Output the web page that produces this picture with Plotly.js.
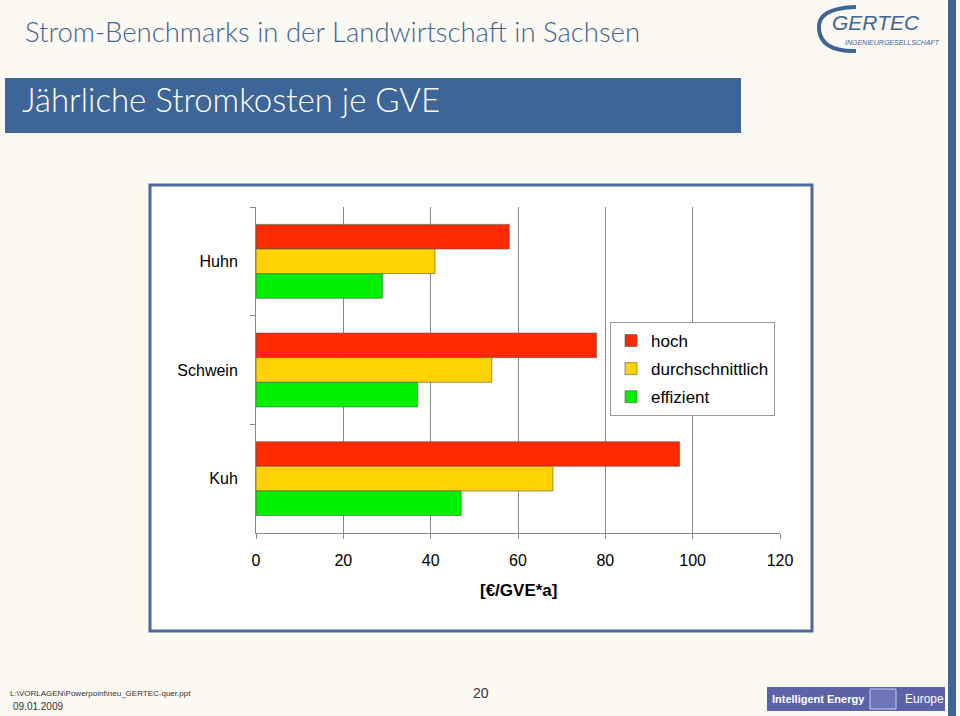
<!DOCTYPE html>
<html><head><meta charset="utf-8">
<script src="https://cdn.plot.ly/plotly-3.0.1.min.js"></script>
<style>html,body{margin:0;padding:0;background:#fcf8f2;}#chart{width:960px;height:716px;}</style>
</head><body><div id="chart"></div>
<script>
const categories = ['Huhn', 'Schwein', 'Kuh'];
const seriesNames = ['hoch', 'durchschnittlich', 'effizient'];
const hoch = [58, 78, 97];
const durchschnittlich = [41, 54, 68];
const effizient = [29, 37, 47];
const xTicks = [0, 20, 40, 60, 80, 100, 120];
const colors = ['#ff2a00', '#ffd200', '#00f000'];

// plot area in pixels
const L = 256, R = 780, T = 207, B = 533;
const W = 960, H = 716;
const px = x => (x - L) / (R - L);
const py = y => (B - y) / (B - T);

const values = [hoch, durchschnittlich, effizient];
const traces = values.map((v, i) => ({
  type: 'bar', orientation: 'h', name: seriesNames[i], legendgroup: 'g' + i,
  x: v, y: categories,
  marker: {color: colors[i], line: {color: '#555', width: 0.6}},
  hoverinfo: 'x+y'
}));

const font = "'Liberation Sans', Arial, sans-serif";
const lightFont = "Lato, 'Open Sans', 'Liberation Sans', sans-serif";
const blue = '#3d6597';

const shapes = [
  {type:'rect', xref:'paper', yref:'paper', layer:'below', x0:px(150), x1:px(812), y0:py(185), y1:py(631), fillcolor:'#ffffff', line:{color:'#4a6a9a', width:3}},
  {type:'rect', xref:'paper', yref:'paper', layer:'below', x0:px(5), x1:px(741), y0:py(78), y1:py(133), fillcolor:blue, line:{width:0}},
  {type:'rect', xref:'paper', yref:'paper', layer:'below', x0:px(948), x1:px(956), y0:py(0), y1:py(716), fillcolor:blue, line:{width:0}},
  {type:'rect', xref:'paper', yref:'paper', layer:'below', x0:px(767), x1:px(945), y0:py(687), y1:py(711), fillcolor:'#5b62a8', line:{width:0}},
  {type:'rect', xref:'paper', yref:'paper', layer:'below', x0:px(870), x1:px(896), y0:py(689), y1:py(709), fillcolor:'#6d74b8', line:{color:'#c8ccee', width:1}},
  {type:'path', xref:'paper', yref:'paper', layer:'below',
   path:'M '+px(856)+','+py(7)+' Q '+px(816)+','+py(8)+' '+px(819)+','+py(30)+' Q '+px(822)+','+py(52)+' '+px(856)+','+py(51),
   line:{color:blue, width:4}}
];

const annotations = [
  {text:'Strom-Benchmarks in der Landwirtschaft in Sachsen', xref:'paper', yref:'paper', x:px(23), y:py(31), xanchor:'left', yanchor:'middle', showarrow:false, font:{family:lightFont, weight:300, size:27.5, color:blue}},
  {text:'Jährliche Stromkosten je GVE', xref:'paper', yref:'paper', x:px(20), y:py(99), xanchor:'left', yanchor:'middle', showarrow:false, font:{family:lightFont, weight:300, size:33, color:'#ffffff'}},
  {text:'<i>GERTEC</i>', xref:'paper', yref:'paper', x:px(830), y:py(23), xanchor:'left', yanchor:'middle', showarrow:false, font:{family:font, size:21, color:blue}},
  {text:'<i>INGENIEURGESELLSCHAFT</i>', xref:'paper', yref:'paper', x:px(843), y:py(42), xanchor:'left', yanchor:'middle', showarrow:false, font:{family:"'Liberation Sans Narrow', "+font, size:7, color:blue}},
  {text:'<b>[€/GVE*a]</b>', xref:'paper', yref:'paper', x:px(518), y:py(590), xanchor:'center', yanchor:'middle', showarrow:false, font:{family:font, size:17, color:'#000'}},
  {text:'L:\\VORLAGEN\\Powerpoint\\neu_GERTEC-quer.ppt', xref:'paper', yref:'paper', x:px(8), y:py(693), xanchor:'left', yanchor:'middle', showarrow:false, font:{family:font, size:8, color:'#333'}},
  {text:'09.01.2009', xref:'paper', yref:'paper', x:px(11), y:py(706), xanchor:'left', yanchor:'middle', showarrow:false, font:{family:font, size:10, color:'#333'}},
  {text:'20', xref:'paper', yref:'paper', x:px(481), y:py(693), xanchor:'center', yanchor:'middle', showarrow:false, font:{family:font, size:14, color:'#333'}},
  {text:'<b>Intelligent Energy</b>', xref:'paper', yref:'paper', x:px(770), y:py(699), xanchor:'left', yanchor:'middle', showarrow:false, font:{family:font, size:11, color:'#ffffff'}},
  {text:'Europe', xref:'paper', yref:'paper', x:px(903), y:py(699), xanchor:'left', yanchor:'middle', showarrow:false, font:{family:font, size:12, color:'#ffffff'}}
];

const layout = {
  width: W, height: H,
  margin: {l: L, r: W - R, t: T, b: H - B, pad: 0},
  paper_bgcolor: '#fcf8f2', plot_bgcolor: '#ffffff',
  barmode: 'group', bargap: 0.32, bargroupgap: 0,
  font: {family: font, size: 16, color: '#000'},
  showlegend: true,
  legend: {x: px(610), y: py(322), xanchor: 'left', yanchor: 'top', bgcolor: '#ffffff', bordercolor: '#999', borderwidth: 1, font: {family: font, size: 17}, traceorder: 'grouped', tracegroupgap: 3, itemwidth: 30},
  xaxis: {range: [0, 120], tickvals: xTicks, ticktext: xTicks.map(String), showgrid: true, gridcolor: '#888', gridwidth: 1, zeroline: false, showline: true, linecolor: '#888', linewidth: 1, ticks: 'outside', ticklen: 5, tickcolor: '#888', ticklabelstandoff: 8, tickfont: {size: 16}, fixedrange: true},
  yaxis: {type: 'category', categoryorder: 'array', categoryarray: categories, autorange: 'reversed', showgrid: false, zeroline: false, showline: true, linecolor: '#888', linewidth: 1, ticks: 'outside', ticklen: 5, tickcolor: '#888', tickson: 'boundaries', ticklabelstandoff: 14, tickfont: {size: 16}, fixedrange: true},
  shapes: shapes,
  annotations: annotations
};

Plotly.newPlot('chart', traces, layout, {displayModeBar: false, staticPlot: true});
</script></body></html>
